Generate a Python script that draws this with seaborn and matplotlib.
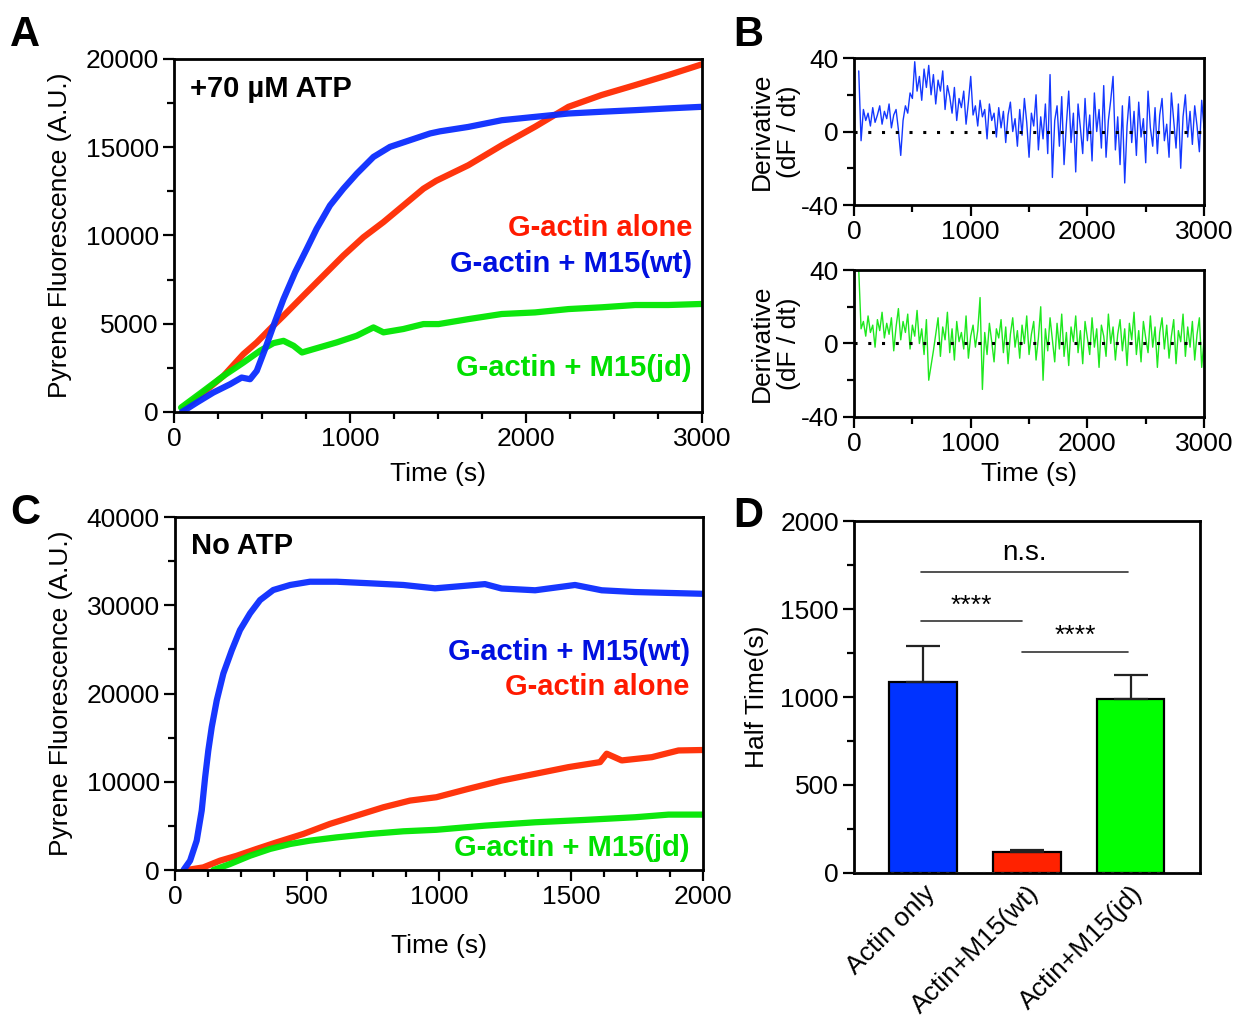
import numpy as np
import pandas as pd
import matplotlib
matplotlib.use('Agg')
import matplotlib.pyplot as plt
from matplotlib.ticker import MultipleLocator
import seaborn as sns

# ---- panel A: +70 uM ATP (time s, pyrene fluorescence a.u.) ----
a_alone_t = [50, 167, 281, 394, 470, 545, 622, 735, 849, 962, 1076, 1190, 1303, 1417,
             1490, 1672, 1862, 2051, 2241, 2430, 2620, 2809, 3000]
a_alone_v = [150, 1100, 2045, 3280, 3940, 4700, 5450, 6590, 7730, 8860, 9900, 10760, 11700,
             12650, 13100, 13980, 15110, 16160, 17290, 17960, 18520, 19090, 19700]
a_wt_t = [45, 129, 223, 318, 384, 432, 470, 517, 565, 622, 688, 754, 810, 886, 962, 1038,
          1133, 1227, 1341, 1455, 1511, 1672, 1862, 2051, 2241, 2430, 2620, 2809, 3000]
a_wt_v = [0, 530, 1100, 1570, 1950, 1855, 2330, 3560, 4890, 6400, 7920, 9240, 10380, 11700,
          12650, 13500, 14450, 15020, 15400, 15780, 15900, 16150, 16530, 16720, 16910, 17010,
          17100, 17200, 17290]
a_jd_t = [40, 167, 281, 394, 489, 565, 622, 679, 727, 792, 924, 1038, 1133, 1190, 1303, 1417,
          1503, 1672, 1862, 2051, 2241, 2430, 2620, 2809, 3000]
a_jd_v = [250, 1190, 2045, 2800, 3470, 3900, 4030, 3750, 3370, 3560, 3940, 4320, 4790, 4510,
          4700, 4980, 4980, 5260, 5550, 5640, 5830, 5930, 6060, 6060, 6120]

# ---- panel B: derivatives, sampled every 20 s from 40 s ----
b_t = np.arange(40, 3001, 20)
b_wt = [33, -5, 12, 6, 10, 3, 13, 5, 9, 14,
        4, 11, 7, 15, 2, 9, 12, 1, -13, 6,
        14, 10, 21, 18, 38, 22, 30, 17, 34, 24,
        36, 20, 31, 15, 28, 22, 33, 12, 25, 19,
        10, 24, 6, 18, 13, 22, 4, 16, 30, 9,
        14, 3, 17, 8, 12, -4, 15, 6, 10, -3,
        13, 2, 11, -6, 9, 16, 0, 7, -8, 12,
        -2, 18, 5, -14, 10, 3, 20, -10, 8, -4,
        15, -12, 31, -25, 6, 14, -8, 19, -18, 4,
        22, -6, 10, -22, 15, 2, -12, 18, -5, 9,
        -16, 21, 0, 12, -9, 25, -14, 6, 17, 30,
        -10, 8, -18, 14, -28, 3, 19, -6, 11, -13,
        16, -3, 7, -17, 22, 2, -8, 13, -12, 9,
        18, -5, 4, -14, 21, 6, -9, 15, -20, 8,
        20, -3, 11, -7, 14, 3, -11, 17, 2]
b_jd = [40, 8, 12, 4, 15, 6, 10, -2, 13, 7,
        17, 3, 11, 5, 14, -4, 9, 19, 2, 12,
        6, 16, -3, 10, 4, 18, 0, 8, -6, 13,
        -20, -12, -4, 5, 14, -7, 9, 2, 17, -5,
        8, -9, 12, 1, 6, -3, 15, -8, 4, 10,
        -2, 7, 25, -25, 6, -6, 11, 1, -10, 8,
        3, 13, -5, 9, -11, 5, 14, -2, 7, -8,
        10, 0, 15, -6, 5, 12, -9, 3, 20, -20,
        8, -4, 14, 2, -10, 11, -3, 16, -7, 6,
        -12, 9, 1, 15, -5, 7, -11, 12, 3, -6,
        14, -2, 8, -13, 10, 4, -7, 16, 0, 9,
        -9, 5, 13, -4, 8, -12, 11, 2, 17, -6,
        7, -10, 12, 3, -5, 15, -2, 9, -13, 6,
        14, -3, 10, -8, 4, 13, -11, 7, 1, 16,
        -7, 9, -2, 12, -9, 5, 14, -13, 2]

# ---- panel C: no ATP ----
c_wt_t = [32, 57, 82, 101, 114, 126, 139, 158, 183, 215, 246, 284, 322, 372, 436, 511, 612,
          739, 865, 985, 1174, 1237, 1364, 1515, 1616, 1742, 1869, 2000]
c_wt_v = [0, 1060, 3330, 6740, 10520, 13550, 16200, 19230, 22270, 24910, 27190, 29080, 30590,
          31730, 32300, 32670, 32670, 32490, 32300, 31920, 32400, 31900, 31700, 32300, 31700,
          31500, 31400, 31300]
c_alone_t = [44, 107, 170, 234, 309, 385, 486, 587, 688, 789, 890, 990, 1111, 1237, 1364, 1490,
             1610, 1635, 1692, 1806, 1907, 2000]
c_alone_v = [0, 300, 1060, 1620, 2390, 3140, 4090, 5230, 6170, 7110, 7870, 8250, 9200, 10140,
             10900, 11660, 12230, 13180, 12420, 12790, 13550, 13600]
c_jd_t = [145, 208, 284, 360, 436, 511, 612, 739, 865, 990, 1174, 1364, 1553, 1742, 1869, 2000]
c_jd_v = [0, 680, 1620, 2390, 2950, 3330, 3700, 4090, 4390, 4560, 5030, 5410, 5680, 5980,
          6280, 6280]

# ---- panel D: half times ----
d_groups = ['Actin only', 'Actin+M15(wt)', 'Actin+M15(jd)']
d_mean = [1085, 120, 990]
d_err = [205, 13, 136]

RED, BLUE, GREEN = '#ff2a00', '#0a2cff', '#00e600'
BAR_COLORS = ['#0033ff', '#ff2200', '#00ff00']
FS = 19

sns.set_theme(style='ticks')
plt.rcParams['font.family'] = ['Liberation Sans', 'DejaVu Sans']
plt.rcParams['axes.linewidth'] = 2
plt.rcParams['axes.edgecolor'] = 'black'
plt.rcParams['axes.unicode_minus'] = False
for key in ['text.color', 'axes.labelcolor', 'xtick.color', 'ytick.color']:
    plt.rcParams[key] = 'black'

fig = plt.figure(figsize=(12.45, 10.22), dpi=100)


def style_axis(ax):
    for s in ax.spines.values():
        s.set_visible(True)
        s.set_linewidth(2)
        s.set_color('black')
    ax.tick_params(which='major', direction='out', length=8, width=1.6, labelsize=FS,
                   colors='black', pad=3)
    ax.tick_params(which='minor', direction='out', length=5, width=1.6, colors='black')
    ax.grid(False)


def kinetics(ax, curves, xmax, ymax, xmaj, xmin, ymaj, ymin):
    for t, v, c in curves:
        sns.lineplot(x=t, y=v, ax=ax, color=c, linewidth=4.5, alpha=0.95)
    ax.set_xlim(0, xmax)
    ax.set_ylim(0, ymax)
    ax.xaxis.set_major_locator(MultipleLocator(xmaj))
    ax.xaxis.set_minor_locator(MultipleLocator(xmin))
    ax.yaxis.set_major_locator(MultipleLocator(ymaj))
    ax.yaxis.set_minor_locator(MultipleLocator(ymin))
    style_axis(ax)
    ax.set_xlabel('Time (s)', fontsize=FS, labelpad=8)
    ax.set_ylabel('Pyrene Fluorescence (A.U.)', fontsize=FS, labelpad=10)


# A
axA = fig.add_axes([0.1398, 0.5969, 0.4241, 0.3454])
kinetics(axA, [(a_alone_t, a_alone_v, RED), (a_jd_t, a_jd_v, GREEN), (a_wt_t, a_wt_v, BLUE)],
         3000, 20000, 1000, 250, 5000, 2500)
axA.text(0.03, 0.915, '+70 µM ATP', transform=axA.transAxes, fontsize=21,
         fontweight='bold', va='center', ha='left')
axA.text(0.981, 0.521, 'G-actin alone', transform=axA.transAxes, fontsize=21,
         fontweight='bold', color='#ff1a00', ha='right', va='center')
axA.text(0.981, 0.419, 'G-actin + M15(wt)', transform=axA.transAxes, fontsize=21,
         fontweight='bold', color='#0010e0', ha='right', va='center')
axA.text(0.981, 0.125, 'G-actin + M15(jd)', transform=axA.transAxes, fontsize=21,
         fontweight='bold', color='#00e000', ha='right', va='center')

# C
axC = fig.add_axes([0.1406, 0.1487, 0.4241, 0.3454])
kinetics(axC, [(c_alone_t, c_alone_v, RED), (c_jd_t, c_jd_v, GREEN), (c_wt_t, c_wt_v, BLUE)],
         2000, 40000, 500, 125, 10000, 5000)
axC.xaxis.labelpad = 18
axC.text(0.03, 0.918, 'No ATP', transform=axC.transAxes, fontsize=21,
         fontweight='bold', va='center', ha='left')
axC.text(0.975, 0.618, 'G-actin + M15(wt)', transform=axC.transAxes, fontsize=21,
         fontweight='bold', color='#0010e0', ha='right', va='center')
axC.text(0.975, 0.518, 'G-actin alone', transform=axC.transAxes, fontsize=21,
         fontweight='bold', color='#ff1a00', ha='right', va='center')
axC.text(0.975, 0.062, 'G-actin + M15(jd)', transform=axC.transAxes, fontsize=21,
         fontweight='bold', color='#00e000', ha='right', va='center')

# B
for pos, vals, col, last in [([0.686, 0.7994, 0.2811, 0.1438], b_wt, '#1438ff', False),
                             ([0.686, 0.5920, 0.2811, 0.1438], b_jd, '#1ee81e', True)]:
    ax = fig.add_axes(pos)
    sns.lineplot(x=b_t, y=vals, ax=ax, color=col, linewidth=1.0)
    ax.axhline(0, color='black', linestyle=(0, (1, 3.5)), linewidth=2.2, zorder=5)
    ax.set_xlim(0, 3000)
    ax.set_ylim(-40, 40)
    ax.xaxis.set_major_locator(MultipleLocator(1000))
    ax.xaxis.set_minor_locator(MultipleLocator(500))
    ax.yaxis.set_major_locator(MultipleLocator(40))
    ax.yaxis.set_minor_locator(MultipleLocator(20))
    style_axis(ax)
    ax.set_ylabel('Derivative\n(dF / dt)', fontsize=FS, linespacing=1.15, labelpad=0)
    if last:
        ax.set_xlabel('Time (s)', fontsize=FS, labelpad=4)

# D
axD = fig.add_axes([0.686, 0.1458, 0.2779, 0.3444])
sns.barplot(x=d_groups, y=d_mean, hue=d_groups, palette=BAR_COLORS, saturation=1, ax=axD,
            width=0.65, edgecolor='black', linewidth=1.6, legend=False, errorbar=None)
axD.errorbar(range(3), d_mean, yerr=[[0, 0, 0], d_err], fmt='none', ecolor='#222222',
             elinewidth=1.6, capsize=12, capthick=1.6, zorder=1)
axD.axhline(0, color='#222222', linestyle=(0, (1, 2)), linewidth=2.2, zorder=6)
axD.set_xlim(-0.665, 2.67)
axD.set_ylim(0, 2000)
axD.yaxis.set_major_locator(MultipleLocator(500))
axD.yaxis.set_minor_locator(MultipleLocator(250))
style_axis(axD)
axD.tick_params(axis='x', length=0, pad=6)
axD.set_xticks(range(3))
axD.set_xticklabels(d_groups, rotation=45, ha='right', rotation_mode='anchor', fontsize=FS)
axD.set_ylabel('Half Time(s)', fontsize=FS, labelpad=8)
axD.set_xlabel('')
for x0, x1, y, label, fs, dy in [(-0.02, 1.98, 1710, 'n.s.', 20, 35),
                                 (-0.02, 0.95, 1432, '****', 19, 20),
                                 (0.955, 1.98, 1258, '****', 19, 20)]:
    axD.plot([x0, x1], [y, y], color='#333333', linewidth=1.2)
    axD.text((x0 + x1) / 2, y + dy, label, ha='center', va='bottom', fontsize=fs)

# panel letters
for x, y, s in [(0.008, 0.985, 'A'), (0.589, 0.985, 'B'), (0.008, 0.518, 'C'), (0.589, 0.515, 'D')]:
    fig.text(x, y, s, fontsize=30, fontweight='bold', va='top', ha='left')

fig.savefig('out.png', dpi=100, facecolor='white')
